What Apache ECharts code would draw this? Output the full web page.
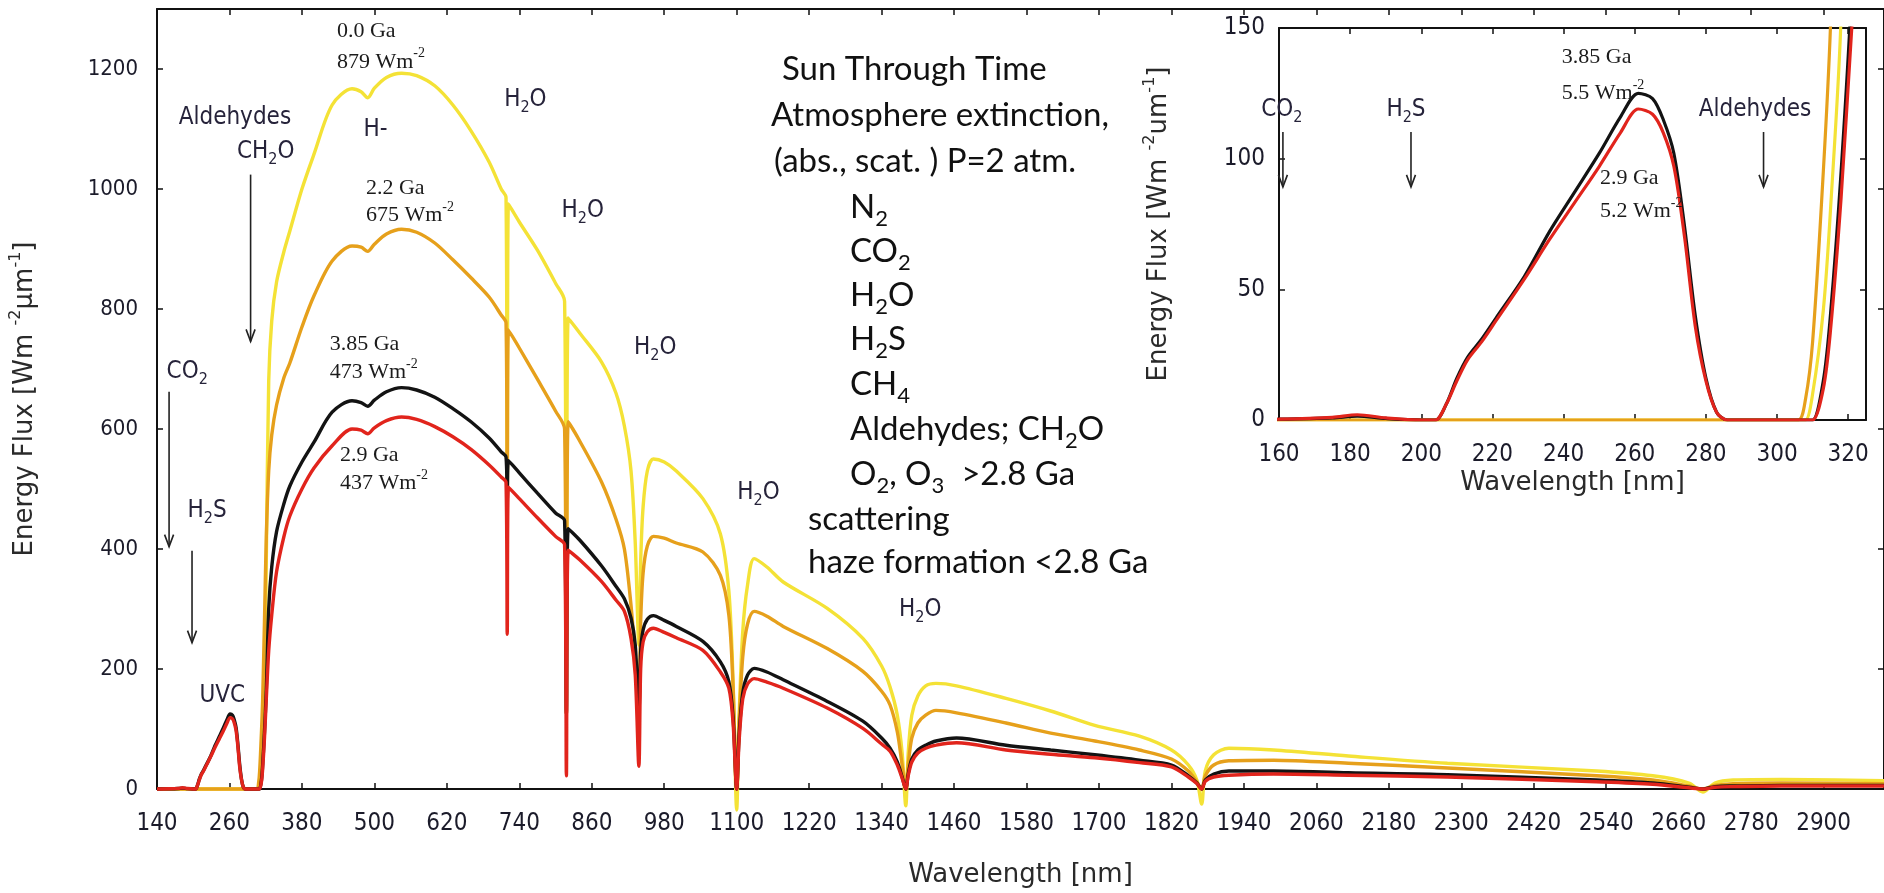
<!DOCTYPE html>
<html>
<head>
<meta charset="utf-8">
<title>Sun Through Time – surface spectral flux</title>
<script src="https://cdn.jsdelivr.net/npm/echarts@6/dist/echarts.min.js"></script>
<style>
  html, body { margin: 0; padding: 0; background: #ffffff; overflow: hidden; }
  #chart { width: 1884px; height: 893px; }
</style>
</head>
<body>
<div id="chart"></div>
<script>
// Wavelength grid (nm) shared by the four spectra
const wavelength = [
  140, 160, 175, 182, 190, 200, 204, 207, 210, 213,
  217, 221, 229, 236, 243, 250, 256, 261, 265, 268,
  271, 274, 277, 280, 283, 286, 300, 306, 308, 310,
  313, 315, 318, 321, 325, 330, 338, 350, 360, 380,
  400, 430, 463, 478, 489, 500, 520, 545, 570, 600,
  630, 660, 690, 710, 718, 720, 722, 740, 770, 800,
  815, 818, 821, 840, 876, 900, 914, 925, 932, 938,
  941, 945, 952, 962, 980, 1000, 1044, 1073, 1087, 1094,
  1100, 1104, 1110, 1118, 1129, 1150, 1177, 1250, 1309, 1340,
  1354, 1366, 1374, 1380, 1384, 1390, 1400, 1413, 1430, 1464,
  1546, 1620, 1693, 1767, 1820, 1848, 1862, 1870, 1876, 1890,
  1915, 1989, 2113, 2277, 2524, 2617, 2677, 2700, 2720, 2750,
  2830, 3000
];

// Surface spectral energy flux, W m^-2 µm^-1
const flux00 = [   // 0.0 Ga
  0, 0, 0, 0, 0, 0, 0, 0, 0, 0,
  0, 0, 0, 0, 0, 0, 0, 0, 0, 0,
  0, 0, 0, 0, 0, 0, 0, 0, 0, 10,
  42, 80, 155, 380, 680, 780, 845, 895, 930, 1000,
  1058, 1140, 1167, 1162, 1152, 1168, 1186, 1193, 1189, 1172,
  1140, 1097, 1045, 1000, 986, 480, 975, 945, 898, 843,
  813, 230, 785, 760, 712, 660, 605, 530, 410, 240,
  380, 470, 530, 550, 545, 530, 484, 425, 330, 180,
  -35, 120, 262, 340, 384, 370, 345, 301, 251, 205,
  170, 123, 60, -28, 60, 123, 155, 172, 176, 172,
  151, 130, 106, 88, 65, 40, 15, -25, 30, 57,
  68, 65, 55, 43, 30, 22, 10, -5, 10, 15,
  16, 14
];
const flux22 = [   // 2.2 Ga
  0, 0, 0, 0, 0, 0, 0, 0, 0, 0,
  0, 0, 0, 0, 0, 0, 0, 0, 0, 0,
  0, 0, 0, 0, 0, 0, 0, 0, 8, 30,
  95, 150, 280, 420, 530, 590, 640, 685, 710, 770,
  822, 880, 905, 903, 896, 908, 925, 933, 928, 910,
  882, 852, 820, 790, 777, 480, 765, 735, 683, 630,
  600, 125, 612, 580, 512, 450, 400, 306, 220, 140,
  280, 360, 405, 421, 418, 410, 395, 356, 290, 170,
  0, 110, 220, 275, 296, 288, 271, 234, 196, 163,
  140, 95, 40, 0, 40, 85, 110, 123, 131, 127,
  110, 93, 80, 65, 50, 30, 12, 0, 22, 40,
  47, 48, 43, 35, 22, 15, 5, 0, 6, 9,
  10, 9
];
const flux385 = [  // 3.85 Ga
  0, 0.3, 0.8, 1.5, 0.6, 0, 0, 6, 16, 24,
  31, 39, 55, 72, 87, 102, 116, 125, 123, 115,
  102, 74, 40, 16, 3, 0, 0, 0, 0, 0,
  15, 40, 95, 165, 300, 370, 429, 475, 505, 545,
  578, 628, 647, 644, 638, 648, 662, 669, 665, 653,
  634, 612, 585, 562, 553, 480, 547, 527, 493, 460,
  447, 125, 434, 415, 372, 338, 317, 285, 240, 130,
  230, 265, 283, 289, 281, 271, 246, 212, 179, 120,
  0, 90, 160, 190, 201, 195, 182, 146, 113, 85,
  68, 45, 20, 0, 25, 50, 65, 73, 80, 85,
  73, 65, 57, 48, 40, 22, 10, 0, 15, 25,
  30, 30, 27, 24, 15, 10, 3, 0, 4, 5,
  6, 6
];
const flux29 = [   // 2.9 Ga
  0, 0.3, 1.0, 2.0, 0.8, 0, 0, 6, 15, 23,
  30, 38, 54, 69, 83, 97, 110, 119, 117, 110,
  97, 70, 36, 15, 3, 0, 0, 0, 0, 0,
  12, 34, 85, 150, 230, 290, 362, 420, 455, 500,
  535, 572, 600, 598, 592, 602, 614, 620, 616, 604,
  587, 566, 540, 520, 511, 258, 503, 484, 452, 421,
  407, 22, 398, 382, 346, 315, 296, 251, 190, 38,
  200, 245, 262, 268, 261, 252, 231, 195, 168, 110,
  0, 80, 150, 175, 184, 178, 168, 135, 101, 75,
  63, 40, 18, 0, 22, 45, 60, 68, 73, 77,
  65, 58, 52, 44, 37, 20, 9, 0, 13, 20,
  23, 25, 23, 20, 12, 8, 2, 0, 3, 4,
  5, 5
];

// Tick positions and labels
const mainXTicks = [140, 260, 380, 500, 620, 740, 860, 980, 1100, 1220, 1340, 1460,
  1580, 1700, 1820, 1940, 2060, 2180, 2300, 2420, 2540, 2660, 2780, 2900];
const mainYTicks = [0, 200, 400, 600, 800, 1000, 1200];
const insetXTicks = [160, 180, 200, 220, 240, 260, 280, 300, 320];
const insetYTicks = [0, 50, 100, 150];

const seriesNames = ['0.0 Ga', '2.2 Ga', '3.85 Ga', '2.9 Ga'];
const seriesColors = ['#f4e236', '#e6a01b', '#131313', '#e1241c'];
const seriesValues = [flux00, flux22, flux385, flux29];

// Annotations anchored in data coordinates [wavelength nm, flux]
const mainNotes = [
  { x: 438, y: 1263, text: '0.0 Ga', kind: 'serif', align: 'left' },
  { x: 438, y: 1212, text: '879 Wm^{-2}', kind: 'serif', align: 'left' },
  { x: 486, y: 1002, text: '2.2 Ga', kind: 'serif', align: 'left' },
  { x: 486, y: 956, text: '675 Wm^{-2}', kind: 'serif', align: 'left' },
  { x: 426, y: 741, text: '3.85 Ga', kind: 'serif', align: 'left' },
  { x: 426, y: 695, text: '473 Wm^{-2}', kind: 'serif', align: 'left' },
  { x: 443, y: 557, text: '2.9 Ga', kind: 'serif', align: 'left' },
  { x: 443, y: 509, text: '437 Wm^{-2}', kind: 'serif', align: 'left' },
  { x: 502, y: 1099, text: 'H-', kind: 'species' },
  { x: 269, y: 1119, text: 'Aldehydes', kind: 'species' },
  { x: 320, y: 1062, text: 'CH_{2}O', kind: 'species' },
  { x: 750, y: 1149, text: 'H_{2}O', kind: 'species' },
  { x: 845, y: 964, text: 'H_{2}O', kind: 'species' },
  { x: 965, y: 736, text: 'H_{2}O', kind: 'species' },
  { x: 1136, y: 494, text: 'H_{2}O', kind: 'species' },
  { x: 1404, y: 298, text: 'H_{2}O', kind: 'species' },
  { x: 190, y: 695, text: 'CO_{2}', kind: 'species' },
  { x: 223, y: 464, text: 'H_{2}S', kind: 'species' },
  { x: 248, y: 156, text: 'UVC', kind: 'species' }
];
const insetNotes = [
  { x: 160.8, y: 118.6, text: 'CO_{2}', kind: 'species' },
  { x: 195.7, y: 118.6, text: 'H_{2}S', kind: 'species' },
  { x: 293.8, y: 118.6, text: 'Aldehydes', kind: 'species' },
  { x: 239.5, y: 138.9, text: '3.85 Ga', kind: 'serif', align: 'left' },
  { x: 239.5, y: 125.1, text: '5.5 Wm^{-2}', kind: 'serif', align: 'left' },
  { x: 250.2, y: 92.6, text: '2.9 Ga', kind: 'serif', align: 'left' },
  { x: 250.2, y: 80.0, text: '5.2 Wm^{-2}', kind: 'serif', align: 'left' }
];
// Downward arrows: [wavelength, flux at tail, flux at head]
const mainArrows = [[295, 1024, 746], [160, 662, 404], [198, 397, 244]];
const insetArrows = [[161.1, 110.2, 89.2], [197.1, 110.2, 89.2], [296.2, 110.2, 89.2]];

// Caption block (page pixels: left edge, line centre)
const captionLines = [
  { left: 782, y: 69, text: 'Sun Through Time' },
  { left: 771, y: 115, text: 'Atmosphere extinction,' },
  { left: 774, y: 161, text: '(abs., scat. ) P=2 atm.' },
  { left: 850, y: 207, text: 'N_{2}' },
  { left: 850, y: 251, text: 'CO_{2}' },
  { left: 850, y: 295, text: 'H_{2}O' },
  { left: 850, y: 339, text: 'H_{2}S' },
  { left: 850, y: 384, text: 'CH_{4}' },
  { left: 850, y: 429, text: 'Aldehydes; CH_{2}O' },
  { left: 850, y: 474, text: 'O_{2}, O_{3}  >2.8 Ga' },
  { left: 808, y: 519, text: 'scattering' },
  { left: 808, y: 562, text: 'haze formation <2.8 Ga' }
];

const FONTS = {
  tick: "'DejaVu Sans Condensed', 'Liberation Sans Narrow', 'DejaVu Sans', sans-serif",
  title: "'DejaVu Sans', Verdana, sans-serif",
  species: "'DejaVu Sans Condensed', 'DejaVu Sans', sans-serif",
  serif: "'Liberation Serif', 'DejaVu Serif', serif",
  caption: "Lato, 'Open Sans', sans-serif"
};
const NOTE_STYLE = {
  serif: { family: FONTS.serif, size: 22, color: '#1b1b1b' },
  species: { family: FONTS.species, size: 24, color: '#26233a' },
  caption: { family: FONTS.caption, size: 33, color: '#111111' }
};

// Rich-text styles: t/b = body text aligned top/bottom, sb = subscript, sp = superscript
function richSet(family, size, color) {
  const sub = Math.round(size * 0.68);
  const sup = Math.round(size * 0.62);
  const lineSub = size * 0.85 + sub / 2;
  const lineSup = size * 0.85 + sup / 2;
  const base = { fontFamily: family, fontSize: size, fill: color, color: color };
  return {
    t: Object.assign({}, base, { verticalAlign: 'top' }),
    b: Object.assign({}, base, { verticalAlign: 'bottom' }),
    sb: Object.assign({}, base, { fontSize: sub, verticalAlign: 'bottom', padding: [Math.max(0, Math.round(lineSub - sub)), 0, 0, 0] }),
    sp: Object.assign({}, base, { fontSize: sup, verticalAlign: 'top', padding: [0, 0, Math.max(0, Math.round(lineSup - sup)), 0] })
  };
}
// "H_{2}O" -> subscript, "Wm^{-2}" -> superscript
function toRich(str) {
  const body = str.indexOf('^{') >= 0 ? 'b' : 't';
  const re = /([_^])\{([^}]*)\}/g;
  let out = '', last = 0, m;
  while ((m = re.exec(str)) !== null) {
    if (m.index > last) out += '{' + body + '|' + str.slice(last, m.index) + '}';
    out += '{' + (m[1] === '_' ? 'sb' : 'sp') + '|' + m[2] + '}';
    last = re.lastIndex;
  }
  if (last < str.length) out += '{' + body + '|' + str.slice(last) + '}';
  return out;
}

const plainNumber = v => String(v);

function valueAxis(gridIndex, position, min, max, ticks, labelOpts, nameOpts) {
  const ax = {
    type: 'value', gridIndex: gridIndex, position: position, min: min, max: max,
    axisLine: { show: true, onZero: false, lineStyle: { color: '#111111', width: 2 } },
    axisTick: { show: true, inside: true, length: 6, customValues: ticks, lineStyle: { color: '#111111', width: 1.5 } },
    axisLabel: labelOpts
      ? Object.assign({ show: true, customValues: ticks, formatter: plainNumber, color: '#1b1b2a',
          fontFamily: FONTS.tick, fontSize: 24 }, labelOpts)
      : { show: false },
    splitLine: { show: false },
    splitArea: { show: false }
  };
  if (nameOpts) Object.assign(ax, nameOpts);
  return ax;
}

const TITLE_SIZE = 26;
const titleRich = richSet(FONTS.title, TITLE_SIZE, '#2a2a2a');
function axisTitle(text, gap, rotate) {
  return {
    name: toRich(text), nameLocation: 'middle', nameGap: gap, nameRotate: rotate,
    nameTextStyle: { rich: titleRich, color: '#2a2a2a', fontFamily: FONTS.title, fontSize: TITLE_SIZE }
  };
}

const pairs = vals => wavelength.map((w, i) => [w, vals[i]]);

const mainSeries = seriesNames.map((name, k) => ({
  type: 'line', name: name, xAxisIndex: 0, yAxisIndex: 0,
  data: pairs(seriesValues[k]),
  showSymbol: false, symbol: 'none', smooth: 0.3, clip: false,
  lineStyle: { color: seriesColors[k], width: 3.4 }, itemStyle: { color: seriesColors[k] },
  emphasis: { disabled: true }, z: 2 + k
}));
const insetSeries = seriesNames.map((name, k) => ({
  type: 'line', name: name + ' (UV)', xAxisIndex: 2, yAxisIndex: 2,
  data: pairs(seriesValues[k]).filter(p => p[0] <= 340),
  showSymbol: false, symbol: 'none', smooth: 0.3, clip: true,
  lineStyle: { color: seriesColors[k], width: 3.2 }, itemStyle: { color: seriesColors[k] },
  emphasis: { disabled: true }, z: 2 + k
}));

const option = {
  animation: false,
  backgroundColor: '#ffffff',
  grid: [
    { left: 157, top: 9, width: 1729, height: 782, show: false },
    { left: 1279, top: 28, width: 587, height: 392, show: true, backgroundColor: '#ffffff', borderWidth: 0 }
  ],
  xAxis: [
    valueAxis(0, 'bottom', 140, 3000, mainXTicks, { margin: 23 }, axisTitle('Wavelength [nm]', 73, 0)),
    valueAxis(0, 'top', 140, 3000, mainXTicks, null),
    valueAxis(1, 'bottom', 160, 325, insetXTicks, { margin: 23 }, axisTitle('Wavelength [nm]', 50, 0)),
    valueAxis(1, 'top', 160, 325, insetXTicks, null)
  ],
  yAxis: [
    valueAxis(0, 'left', 0, 1300, mainYTicks, { margin: 19, fontSize: 22 },
      axisTitle('Energy Flux [Wm ^{-2}µm^{-1}]', 119, 90)),
    valueAxis(0, 'right', 0, 1300, mainYTicks, null),
    valueAxis(1, 'left', 0, 150, insetYTicks, { margin: 14 },
      axisTitle('Energy Flux [Wm ^{-2}um^{-1}]', 107, 90)),
    valueAxis(1, 'right', 0, 150, insetYTicks, null)
  ],
  series: mainSeries.concat(insetSeries)
};

const chart = echarts.init(document.getElementById('chart'), null, { renderer: 'canvas' });
chart.setOption(option);

// Text element whose body-text centre sits at (px, py)
function textElement(px, py, text, st, align) {
  const hasSup = text.indexOf('^{') >= 0;
  const va = hasSup ? 'bottom' : 'top';
  const y = hasSup ? py + st.size / 2 : py - st.size / 2;
  return {
    type: 'text', x: px, y: y, z: 30, silent: true,
    style: {
      text: toRich(text), rich: richSet(st.family, st.size, st.color),
      fill: st.color, fontFamily: st.family, fontSize: st.size,
      align: align || 'center', verticalAlign: va,
      textAlign: align || 'center', textVerticalAlign: va
    }
  };
}
function arrowElements(gridIndex, a) {
  const p1 = chart.convertToPixel({ gridIndex: gridIndex }, [a[0], a[1]]);
  const p2 = chart.convertToPixel({ gridIndex: gridIndex }, [a[0], a[2]]);
  const s = { stroke: '#222222', lineWidth: 1.6, fill: null };
  return [
    { type: 'line', z: 30, silent: true, shape: { x1: p1[0], y1: p1[1], x2: p2[0], y2: p2[1] }, style: s },
    { type: 'polyline', z: 30, silent: true,
      shape: { points: [[p2[0] - 4.5, p2[1] - 12], [p2[0], p2[1]], [p2[0] + 4.5, p2[1] - 12]] }, style: s }
  ];
}

const elements = [];
mainNotes.forEach(n => {
  const p = chart.convertToPixel({ gridIndex: 0 }, [n.x, n.y]);
  elements.push(textElement(p[0], p[1], n.text, NOTE_STYLE[n.kind], n.align));
});
insetNotes.forEach(n => {
  const p = chart.convertToPixel({ gridIndex: 1 }, [n.x, n.y]);
  elements.push(textElement(p[0], p[1], n.text, NOTE_STYLE[n.kind], n.align));
});
mainArrows.forEach(a => elements.push.apply(elements, arrowElements(0, a)));
insetArrows.forEach(a => elements.push.apply(elements, arrowElements(1, a)));
captionLines.forEach(c => elements.push(textElement(c.left, c.y, c.text, NOTE_STYLE.caption, 'left')));

chart.setOption({ graphic: { elements: elements } });
</script>
</body>
</html>
